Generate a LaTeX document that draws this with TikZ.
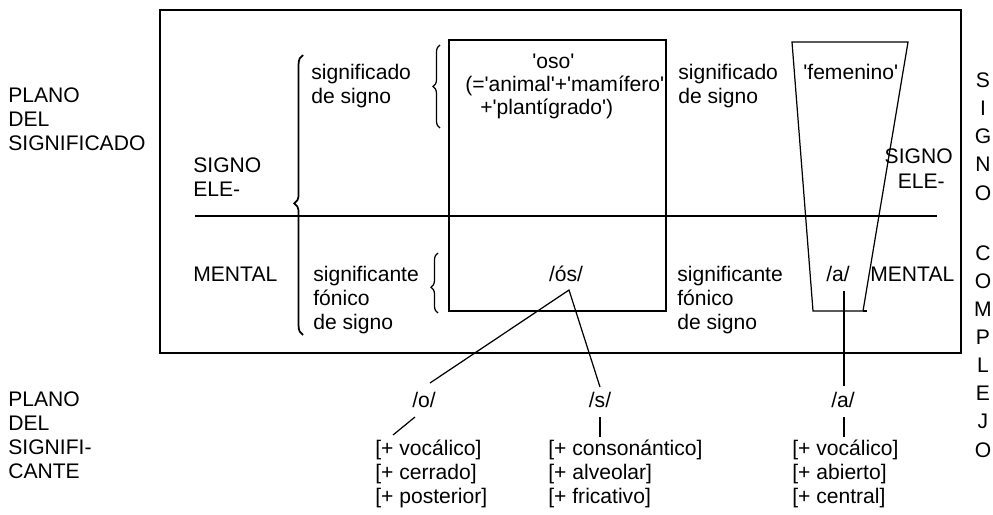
\documentclass[tikz,border=0pt]{standalone}
\usepackage{fontspec}
\usepackage{tikz}
\usetikzlibrary{decorations.pathreplacing}
\newfontfamily\diagfont{Liberation Sans}

\begin{document}
\begin{tikzpicture}[x=0.02cm, y=-0.02cm,
	txt/.style={anchor=base west, align=left, inner sep=0pt, font=\diagfont\fontsize{12}{13.6}\selectfont},
	txtc/.style={txt, anchor=base, align=center},
	txtr/.style={txt, anchor=base east},
	vtxt/.style={txtc, font=\diagfont\fontsize{12}{16}\selectfont},
	link/.style={line width=0.7pt}]
	\useasboundingbox (0,0) rectangle (993,514);
	\draw [line width=0.6pt] (160,10) rectangle (961,353);
	\draw [line width=0.6pt] (195,216) -- (937,216);
	\draw [link] (449,40) rectangle (666,311);
	\draw [link] (792,42) -- (908,42) -- (863,311) -- (813,311) -- cycle;
	\draw [link] (863,311) -- (867,311);
	\draw [decorate, decoration={brace, amplitude=5pt, aspect=0.47}, line width=1pt] (303,335) -- (303,55);
	\draw [decorate, decoration={brace, amplitude=4pt}, link] (440,128) -- (440,45);
	\draw [decorate, decoration={brace, amplitude=4pt, aspect=0.43}, link] (438,313) -- (438,253);

	\node [txt] (planoSdo) at (8,150) {PLANO\\DEL\\SIGNIFICADO};
	\node [txt] (signoL) at (193,196) {SIGNO\\ELE-};
	\node [txt] (mentalL) at (193,281) {MENTAL};
	\node [txt] (sdoL) at (311,103) {significado\\de signo};
	\node [txt] (steL) at (313,329) {significante\\fónico\\de signo};
	\node [txt] (oso) at (532,68) {'oso'};
	\node [txt] (osoA) at (465,91) {(='animal'+'mamífero'};
	\node [txt] (osoB) at (480,114) {+'plantígrado')};
	\node [txtc] (os) at (566,281) {/ós/};
	\node [txt] (sdoR) at (678,103) {significado\\de signo};
	\node [txt] (steR) at (677,329) {significante\\fónico\\de signo};
	\node [txt] (fem) at (803,79) {'femenino'};
	\node [txtr] (signoR) at (953,163) {SIGNO};
	\node [txtr] (eleR) at (945,188) {ELE-};
	\node [txtc] (aUp) at (838,281) {/a/};
	\node [txt] (mentalR) at (870,281) {MENTAL};
	\node [vtxt] (signoV) at (983,200) {S\\I\\G\\N\\O};
	\node [vtxt] (complejoV) at (983,457) {C\\O\\M\\P\\L\\E\\J\\O};

	\node [txt] (planoSte) at (8,478) {PLANO\\DEL\\SIGNIFI-\\CANTE};
	\node [txtc] (o) at (424,407) {/o/};
	\node [txtc] (s) at (600,407) {/s/};
	\node [txtc] (aDown) at (843,407) {/a/};
	\node [txt] (featO) at (375,503) {[+ vocálico]\\{}[+ cerrado]\\{}[+ posterior]};
	\node [txt] (featS) at (548,503) {[+ consonántico]\\{}[+ alveolar]\\{}[+ fricativo]};
	\node [txt] (featA) at (792,503) {[+ vocálico]\\{}[+ abierto]\\{}[+ central]};

	\coordinate (osTip) at (569,290);
	\coordinate (oEnd) at (430,383);
	\coordinate (sEnd) at (600,387);
	\coordinate (aTop) at (844,291);
	\coordinate (aEnd) at (844,386);
	\coordinate (oStrokeA) at (415,417);
	\coordinate (oStrokeB) at (393,435);
	\coordinate (sStrokeA) at (600,417);
	\coordinate (sStrokeB) at (600,437);
	\coordinate (aStrokeA) at (844,417);
	\coordinate (aStrokeB) at (844,437);
	\draw [link] (oEnd) -- (osTip) -- (sEnd);
	\draw [link] (aTop) -- (aEnd);
	\draw [link] (oStrokeA) -- (oStrokeB);
	\draw [link] (sStrokeA) -- (sStrokeB);
	\draw [link] (aStrokeA) -- (aStrokeB);
\end{tikzpicture}
\end{document}
